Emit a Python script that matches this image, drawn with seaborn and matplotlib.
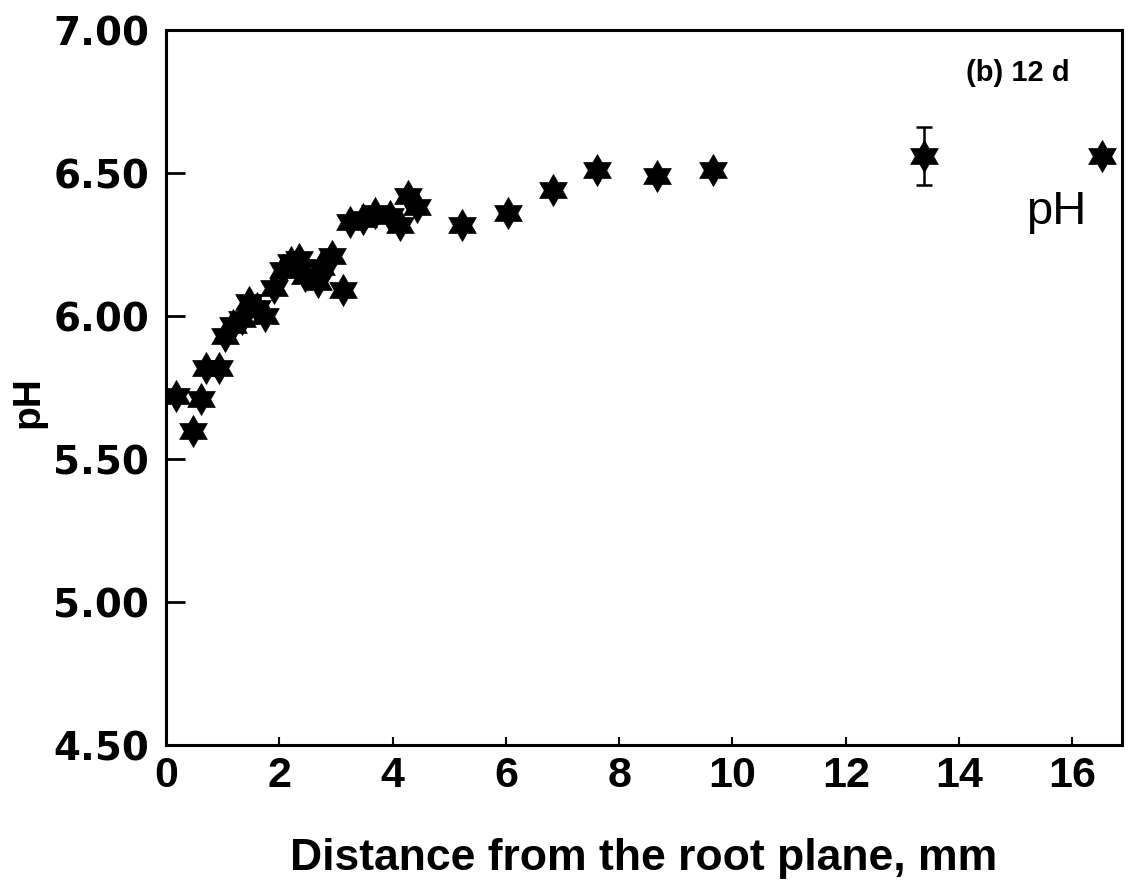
import numpy as np
import pandas as pd
import matplotlib
matplotlib.use("Agg")
import matplotlib.pyplot as plt
from matplotlib.path import Path
import seaborn as sns

# Data
distance_mm = [0.17, 0.61, 0.48, 0.70, 0.93, 1.05, 1.19, 1.35, 1.46, 1.60, 1.75,
               1.90, 2.07, 2.20, 2.34, 2.46, 2.69, 2.73, 2.93, 3.12, 3.25, 3.47,
               3.69, 3.96, 4.13, 4.28, 4.43, 5.23, 6.04, 6.83, 7.61, 8.67, 9.66,
               13.38, 16.52]
ph_values = [5.72, 5.71, 5.60, 5.82, 5.82, 5.93, 5.97, 5.99, 6.05, 6.03, 6.00,
             6.10, 6.16, 6.19, 6.20, 6.14, 6.12, 6.17, 6.21, 6.09, 6.33, 6.34,
             6.36, 6.35, 6.32, 6.42, 6.38, 6.32, 6.36, 6.44, 6.51, 6.49, 6.51,
             6.56, 6.56]
err_x = [13.38]
err_y = [6.56]
err_size = [0.10]

x_ticks = [0, 2, 4, 6, 8, 10, 12, 14, 16]
y_ticks = [4.50, 5.00, 5.50, 6.00, 6.50, 7.00]
y_tick_labels = ["4.50", "5.00", "5.50", "6.00", "6.50", "7.00"]

df = pd.DataFrame({"dist": distance_mm, "pH": ph_values})

sns.set_theme(style="white")
plt.rcParams["font.family"] = ["Liberation Sans", "DejaVu Sans"]
plt.rcParams["text.color"] = "black"
plt.rcParams["axes.labelcolor"] = "black"
plt.rcParams["xtick.color"] = "black"
plt.rcParams["ytick.color"] = "black"

# hexagram marker (six-pointed star, point up)
angles = np.pi / 2 + np.arange(12) * np.pi / 6
radii = np.where(np.arange(12) % 2 == 0, 1.0, 0.577)
verts = np.column_stack([radii * np.cos(angles), radii * np.sin(angles)])
verts = np.vstack([verts, verts[:1]])
codes = [Path.MOVETO] + [Path.LINETO] * 11 + [Path.CLOSEPOLY]
hexagram = Path(verts, codes)

fig = plt.figure(figsize=(11.29, 8.84), dpi=100)
ax = fig.add_axes([0.147, 0.157, 0.847, 0.809])

ax.errorbar(err_x, err_y, yerr=err_size, fmt="none", ecolor="black",
            elinewidth=1.8, capsize=6, capthick=1.8, zorder=2)
sns.scatterplot(data=df, x="dist", y="pH", marker=hexagram, s=530,
                color="black", edgecolor="black", linewidth=0.5, ax=ax, zorder=3)

ax.set_xlim(0, 16.88)
ax.set_ylim(4.5, 7.0)
ax.set_xticks(x_ticks)
ax.set_yticks(y_ticks)
ax.set_yticklabels(y_tick_labels)

for sp in ax.spines.values():
    sp.set_visible(True)
    sp.set_color("black")
    sp.set_linewidth(2.2)

ax.tick_params(axis="y", direction="in", length=14, width=2, left=True, pad=12,
               colors="black")
ax.tick_params(axis="x", direction="in", length=6, width=1.5, bottom=True, pad=8,
               colors="black")

for lab in ax.get_yticklabels():
    lab.set_fontsize(28)
    lab.set_fontweight("bold")
    lab.set_family(["DejaVu Sans"])
for lab in ax.get_xticklabels():
    lab.set_fontsize(31)
    lab.set_fontweight("bold")

ax.set_xlabel("Distance from the root plane, mm", fontsize=32, fontweight="bold",
              color="black", labelpad=30)
ax.set_ylabel("pH", fontsize=28, fontweight="bold", color="black")
ax.yaxis.set_label_coords(-0.125, 0.48)

ax.text(0.945, 0.94, "(b) 12 d", transform=ax.transAxes, ha="right", va="center",
        fontsize=21, fontweight="bold", color="black")
ax.text(0.963, 0.745, "pH", transform=ax.transAxes, ha="right", va="center",
        fontsize=34, color="black")

fig.savefig("out.png", dpi=100, facecolor="white")
